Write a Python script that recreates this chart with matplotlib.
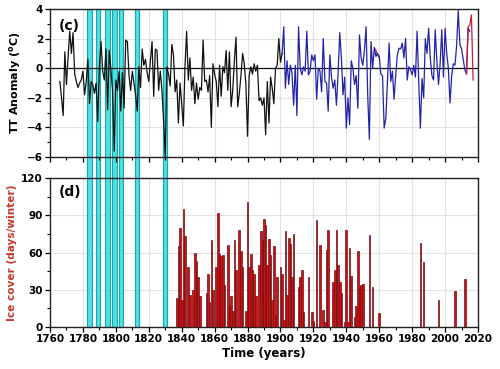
import matplotlib
matplotlib.use("Agg")
import matplotlib.pyplot as plt
from matplotlib.patches import Rectangle
from matplotlib.transforms import blended_transform_factory
from matplotlib.ticker import MultipleLocator

# ---------------- data ----------------
black_years = list(range(1766, 1902))
black_vals = [-0.9, -2.0, -3.2, 1.1, -1.1, 0.8, 2.5, 1.0, 2.4, -0.4,
              -0.9, -1.3, -1.0, -0.8, -0.2, -1.8, -0.9, 0.6, -2.4, -0.9,
              -1.1, -1.7, -1.0, -3.6, 0.1, 1.8, -0.2, -0.8, 1.3, -2.8,
              1.2, -0.1, -1.5, -5.6, -0.8, -1.5, -0.2, -2.9, -0.3, -2.7,
              1.9, 1.8, -0.5, -1.5, -0.2, -1.0, -1.8, -2.9, 0.1, -1.3,
              1.3, 0.2, 0.6, -0.3, -0.9, 0.5, 1.8, -1.9, 1.3, 1.2,
              -1.5, -0.2, -1.5, -3.5, -6.0, 0.1, -0.4, -1.2, 1.6, 0.9,
              -1.6, -0.8, -3.7, -1.0, -2.4, -3.9, 0.1, 2.5, -0.8, 0.7,
              -1.5, -0.6, -2.4, -1.0, -2.1, -1.3, -1.5, 1.9, -0.9, -0.8,
              -1.6, -0.5, -4.0, 0.3, -0.4, -0.9, -2.6, 0.2, -1.9, 0.1,
              -0.3, 1.2, -1.5, 1.1, -2.6, -1.5, 0.5, 2.1, -2.6, -1.7,
              -0.5, 1.0, 0.3, -1.1, -4.6, -0.5, 0.1, -0.4, 0.3, -0.2,
              0.2, -2.2, -2.0, -2.5, -2.0, -4.5, -0.9, -3.7, -0.6, -1.35,
              -2.4, 0.0, 0.2, 2.0, 0.4, 1.0]

blue_years = list(range(1901, 2016))
blue_vals = [1.0, 2.8, -1.35, 0.5, -1.1, 0.2, -0.3, -2.5, 0.2, -3.2,
             2.8, 0.0, -0.45, 0.1, -0.2, 2.5, -0.45, -0.2, 0.9, 0.5,
             0.9, -2.1, 0.0, -0.2, -1.6, 2.0, -0.9, -1.0, -2.9, 0.9,
             -0.6, -1.35, -0.8, -2.5, -0.4, 2.4, 0.7, -1.8, -0.6, -4.05,
             -2.0, -3.8, 0.5, 0.0, -1.1, -0.5, -2.7, 2.25, 0.7, 0.2,
             1.2, 2.8, -1.8, -4.8, 1.8, 0.0, 1.35, 0.8, 1.0, 0.8,
             -0.4, -0.5, -4.05, -3.4, -0.9, 1.7, -0.9, -0.2, -2.1, -0.5,
             0.9, 1.35, 1.3, 1.7, 0.7, 2.0, -0.8, 0.1, -0.1, -0.45,
             0.2, -0.6, 2.5, -0.9, -4.05, -0.7, -2.0, 2.0, 1.0, 2.7,
             0.7, -0.5, -0.8, 2.6, 0.5, -1.1, 0.3, 2.6, -0.6, 2.7,
             1.0, 0.0, -2.35, -0.5, 0.3, 0.2, 1.5, 3.9, 1.6, 1.3,
             0.6, -0.1, -0.4, 2.7, 2.5]

red_years_a = [1957, 1958, 1959, 1960]
red_vals_a = [1.4, 1.2, 0.9, 0.7]
red_years_b = [2013, 2014, 2015, 2016, 2017]
red_vals_b = [-0.4, 2.8, 2.9, 3.6, -0.8]

cyan_years = [1782.7, 1787.7, 1793.7, 1797.9, 1801.8, 1811.7, 1828.6]
cyan_width = 2.6

ice_years = list(range(1837, 1961)) + [1985, 1987, 1996, 2006, 2012]
ice_days = [23, 65, 80, 22, 95, 73, 0, 48, 26, 0,
            30, 60, 53, 40, 25, 0, 0, 0, 27, 43,
            20, 70, 30, 0, 48, 92, 59, 57, 58, 34,
            0, 66, 18, 25, 13, 70, 46, 0, 78, 61,
            48, 0, 13, 101, 48, 59, 46, 43, 25, 0,
            50, 77, 70, 87, 82, 50, 71, 58, 22, 65,
            10, 40, 0, 48, 43, 6, 77, 26, 72, 67,
            40, 75, 0, 0, 32, 40, 46, 12, 0, 0,
            40, 0, 12, 5, 0, 86, 0, 66, 0, 14,
            4, 62, 78, 0, 0, 36, 46, 78, 50, 36,
            27, 0, 4, 78, 4, 64, 41, 0, 8, 17,
            61, 32, 34, 35, 0, 0, 0, 74, 0, 32,
            0, 0, 0, 11,
            68, 52, 22, 29, 39]

# ---------------- figure ----------------
fig = plt.figure(figsize=(5.0, 3.69), dpi=100)
L, R = 0.10, 0.956
T1, B1 = 0.9756, 0.5745
T2, B2 = 0.5176, 0.1138
ax1 = fig.add_axes([L, B1, R - L, T1 - B1])
ax2 = fig.add_axes([L, B2, R - L, T2 - B2])

grid_kw = dict(color='#e2e2e2', linewidth=0.8)
for ax in (ax1, ax2):
    ax.set_xlim(1760, 2020)
    ax.xaxis.set_major_locator(MultipleLocator(20))
    ax.xaxis.set_minor_locator(MultipleLocator(10))
    ax.grid(True, which='major', **grid_kw)
    ax.set_axisbelow(True)
    ax.tick_params(which='major', direction='out', length=3.5, width=0.9,
                   labelsize=7.5, pad=1.5)
    ax.tick_params(which='minor', direction='out', length=2, width=0.8)
    for s in ax.spines.values():
        s.set_linewidth(1.0)
        s.set_color('#222222')

# cyan bands: inside each panel (behind data) and across the gap
cyan_face, cyan_edge = '#4fe0e0', '#16a8ac'
trans = blended_transform_factory(ax1.transData, fig.transFigure)
for y in cyan_years:
    fig.patches.append(Rectangle((y, B2), cyan_width, T1 - B2,
                                 transform=trans, facecolor=cyan_face,
                                 edgecolor=cyan_edge, linewidth=0.8,
                                 zorder=-1))
    for ax in (ax1, ax2):
        ax.axvspan(y, y + cyan_width, facecolor=cyan_face,
                   edgecolor=cyan_edge, linewidth=0.8, zorder=1)

# top panel
ax1.set_ylim(-6, 4)
ax1.yaxis.set_major_locator(MultipleLocator(2))
ax1.yaxis.set_minor_locator(MultipleLocator(1))
ax1.axhline(0, color='#111111', linewidth=0.9, zorder=2)
ax1.plot(red_years_a, red_vals_a, color='#c0203a', linewidth=0.9, zorder=3)
ax1.plot(black_years, black_vals, color='#111111', linewidth=0.9, zorder=4)
ax1.plot(blue_years, blue_vals, color='#2323a8', linewidth=0.9, zorder=4)
ax1.plot(red_years_b, red_vals_b, color='#c0203a', linewidth=0.9, zorder=5)
ax1.tick_params(axis='x', labelbottom=False)
ax1.set_ylabel('TT Anomaly ($\\mathbf{^o}$C)', fontsize=8,
               fontweight='bold', labelpad=3)
ax1.text(0.02, 0.93, '(c)', transform=ax1.transAxes, fontsize=10,
         fontweight='bold', va='top', ha='left', zorder=6)

# bottom panel
ax2.set_ylim(0, 120)
ax2.yaxis.set_major_locator(MultipleLocator(30))
ax2.yaxis.set_minor_locator(MultipleLocator(15))
ax2.bar(ice_years, ice_days, width=1.0, align='center',
        color='#d40f0f', edgecolor='#701015', linewidth=0.5, zorder=3)
ax2.set_ylabel('Ice cover (days/winter)', fontsize=7.6, fontweight='bold',
               color='#c8372d', labelpad=3)
ax2.set_xlabel('Time (years)', fontsize=8.5, fontweight='bold', labelpad=2)
ax2.text(0.02, 0.95, '(d)', transform=ax2.transAxes, fontsize=10,
         fontweight='bold', va='top', ha='left', zorder=6)

for ax in (ax1, ax2):
    for lab in ax.get_xticklabels() + ax.get_yticklabels():
        lab.set_fontweight('bold')

fig.savefig('out.png', dpi=100)
